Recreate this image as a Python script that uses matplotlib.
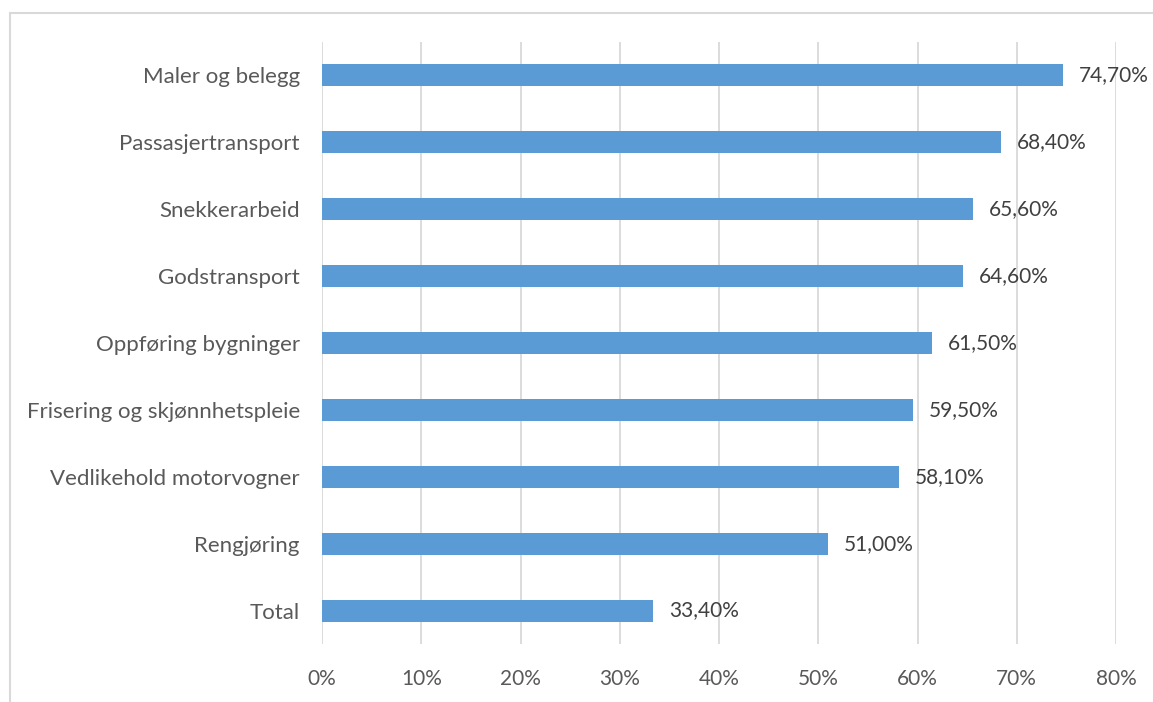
import matplotlib.pyplot as plt
from matplotlib.patches import Rectangle

# Data (bottom to top)
categorias = ['Total', 'Rengjøring', 'Vedlikehold motorvogner', 'Frisering og skjønnhetspleie',
              'Oppføring bygninger', 'Godstransport', 'Snekkerarbeid', 'Passasjertransport',
              'Maler og belegg']
verdier = [33.4, 51.0, 58.1, 59.5, 61.5, 64.6, 65.6, 68.4, 74.7]
x_ticks = [0, 10, 20, 30, 40, 50, 60, 70, 80]

plt.rcParams['font.family'] = ['Lato', 'DejaVu Sans']
W, H = 1153, 702
fig = plt.figure(figsize=(W / 100, H / 100), dpi=100)
ax = fig.add_axes([322 / W, 1 - 644 / H, (1116 - 322) / W, (644 - 42) / H])

# outer frame
fig.patches.append(Rectangle((10 / W, -0.1), 1.2, 1 - 13 / H + 0.1, transform=fig.transFigure,
                             fill=False, edgecolor='#D9D9D9', linewidth=1.5))

ypos = range(len(categorias))
ax.barh(ypos, verdier, height=0.33, color='#5B9BD5', zorder=3)
for y, v in zip(ypos, verdier):
    ax.text(v + 1.6, y, f'{v:.2f}%'.replace('.', ','), va='center', ha='left',
            fontsize=15, color='#404040')

ax.set_xlim(0, 80)
ax.set_ylim(-0.5, len(categorias) - 0.5)
ax.set_xticks(x_ticks)
ax.set_xticklabels([f'{t}%' for t in x_ticks])
ax.set_yticks(list(ypos))
ax.set_yticklabels(categorias)
ax.tick_params(axis='both', length=0, labelcolor='#595959')
ax.tick_params(axis='x', pad=18, labelsize=15)
ax.tick_params(axis='y', pad=16, labelsize=16)
ax.grid(axis='x', color='#D9D9D9', linewidth=1.3, zorder=0)
for s in ax.spines.values():
    s.set_visible(False)

fig.savefig('out.png', dpi=100)
